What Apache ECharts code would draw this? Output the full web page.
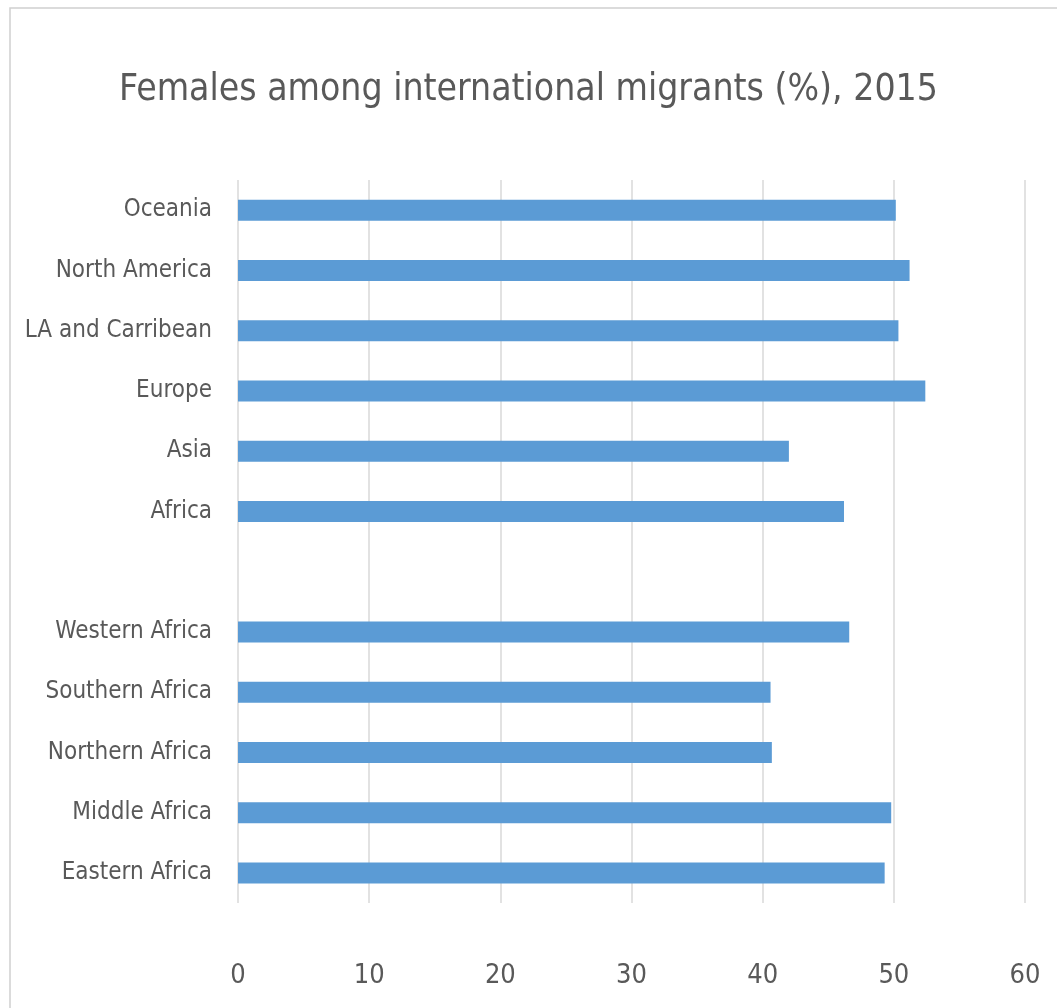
<!DOCTYPE html>
<html><head><meta charset="utf-8">
<script src="https://cdn.jsdelivr.net/npm/echarts@6/dist/echarts.min.js"></script>
<style>html,body{margin:0;padding:0;background:#fff}#c{width:1057px;height:1008px}</style>
</head><body><div id="c"></div>
<script>
const categories = ["Oceania","North America","LA and Carribean","Europe","Asia","Africa","","Western Africa","Southern Africa","Northern Africa","Middle Africa","Eastern Africa"];
const values = [50.15, 51.2, 50.35, 52.4, 42.0, 46.2, null, 46.6, 40.6, 40.7, 49.8, 49.3];
const xTicks = [0, 10, 20, 30, 40, 50, 60];
const titleText = "Females among international migrants (%), 2015";

const FONT = "'DejaVu Sans Condensed','Liberation Sans Narrow','Liberation Sans',sans-serif";
const chart = echarts.init(document.getElementById('c'), null, {renderer:'canvas'});
chart.setOption({
  animation:false,
  backgroundColor:'#fff',
  graphic:[{type:'rect', shape:{x:10,y:8,width:1200,height:1200}, style:{fill:'none', stroke:'#d0d0d0', lineWidth:1.5}}],
  title:{text:titleText, left:'center', top:67, textStyle:{fontFamily:FONT, fontSize:37, fontWeight:'normal', color:'#595959'}},
  grid:{left:238, right:32, top:180, bottom:105, containLabel:false, outerBoundsMode:'none'},
  xAxis:{type:'value', min:xTicks[0], max:xTicks[xTicks.length-1], interval:10,
    axisLine:{show:false}, axisTick:{show:false},
    splitLine:{show:true, lineStyle:{color:'#d9d9d9', width:1.5}},
    axisLabel:{fontFamily:FONT, fontSize:27, color:'#595959', margin:59}},
  yAxis:{type:'category', data:categories, inverse:true,
    axisLine:{show:false}, axisTick:{show:false}, splitLine:{show:false},
    axisLabel:{fontFamily:FONT, fontSize:24, color:'#595959', margin:26}},
  series:[{type:'bar', data:values, barWidth:21, itemStyle:{color:'#5B9BD5'}}]
});
</script></body></html>
